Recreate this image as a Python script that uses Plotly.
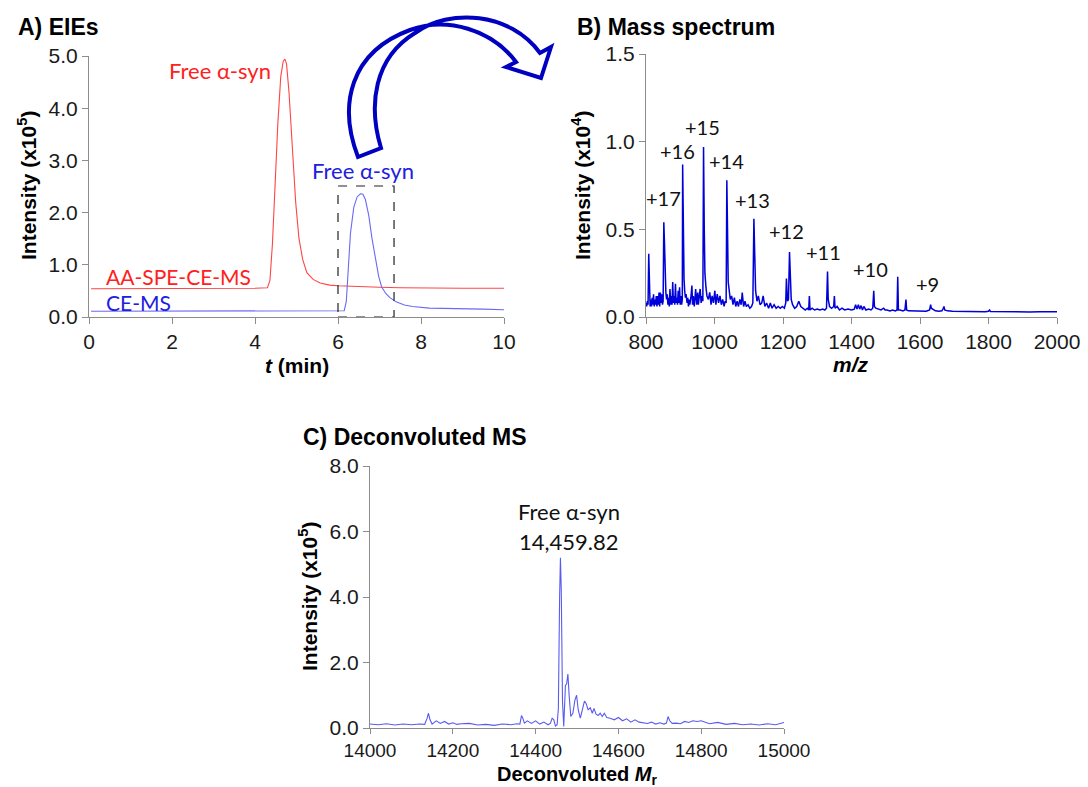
import plotly.graph_objects as go

W, H = 1088, 787

# ---------------- Panel A data (EIEs) ----------------
red_t = [0.05, 1.0, 2.0, 3.0, 4.0, 4.3, 4.36, 4.42, 4.48, 4.55, 4.62, 4.68, 4.72, 4.76, 4.82,
         4.9, 4.98, 5.06, 5.15, 5.25, 5.4, 5.57, 5.8, 6.0, 6.5, 7.0, 7.5, 8.0, 9.0, 10.05]
red_i = [0.54, 0.54, 0.54, 0.545, 0.55, 0.56, 0.7, 1.4, 2.5, 3.7, 4.6, 4.9, 4.94, 4.85, 4.3,
         3.2, 2.2, 1.5, 1.1, 0.85, 0.72, 0.65, 0.61, 0.60, 0.58, 0.57, 0.56, 0.555, 0.55, 0.55]
blue_t = [0.05, 2.0, 4.0, 6.0, 6.15, 6.2, 6.25, 6.3, 6.38, 6.46, 6.54, 6.6, 6.66, 6.74, 6.82,
          6.9, 6.98, 7.05, 7.15, 7.25, 7.4, 7.6, 7.8, 8.2, 8.6, 9.0, 9.5, 10.0]
blue_i = [0.11, 0.11, 0.11, 0.11, 0.12, 0.3, 0.9, 1.6, 2.1, 2.3, 2.36, 2.35, 2.25, 1.95, 1.5,
          1.1, 0.78, 0.58, 0.45, 0.37, 0.29, 0.23, 0.2, 0.17, 0.16, 0.15, 0.15, 0.14]
box_t = [6.0, 7.35]
box_i = [0.0, 2.51]

# ---------------- Panel B data (mass spectrum, x10^4) ----------------
mz = [800, 802, 804, 806, 808, 810, 812, 814, 816, 818,
      820, 822, 824, 826, 828, 830, 832, 834, 836, 838,
      840, 842, 844, 846, 848, 850, 852, 854, 856, 858,
      860, 862, 864, 866, 868, 870, 872, 874, 876, 878,
      880, 882, 884, 886, 888, 890, 892, 894, 896, 898,
      900, 902, 904, 906, 907, 909, 911, 913, 915, 917,
      920, 922, 924, 926, 928, 931, 934, 936, 938, 941,
      945, 948, 951, 953, 955, 958, 961, 963, 966, 968,
      970, 972, 975, 978, 982, 986, 990, 993, 997, 1001,
      1004, 1008, 1012, 1016, 1020, 1024, 1028, 1031, 1034, 1036,
      1038, 1040, 1043, 1046, 1050, 1054, 1058, 1062, 1066, 1070,
      1074, 1078, 1081, 1085, 1089, 1093, 1098, 1103, 1108, 1112,
      1115, 1117, 1120, 1124, 1128, 1133, 1138, 1142, 1147, 1152,
      1158, 1163, 1168, 1174, 1180, 1186, 1192, 1198, 1204, 1208,
      1210, 1213, 1216, 1219, 1221, 1224, 1228, 1234, 1240, 1246,
      1252, 1258, 1265, 1271, 1275, 1277, 1279, 1285, 1292, 1300,
      1308, 1316, 1322, 1327, 1330, 1332, 1336, 1342, 1348, 1350,
      1352, 1358, 1365, 1372, 1380, 1390, 1400, 1408, 1412, 1416,
      1420, 1424, 1428, 1432, 1436, 1442, 1450, 1457, 1462, 1465,
      1467, 1471, 1478, 1486, 1494, 1498, 1504, 1512, 1520, 1528,
      1533, 1535, 1537, 1542, 1550, 1556, 1559, 1561, 1566, 1575,
      1590, 1605, 1618, 1628, 1631, 1633, 1636, 1645, 1655, 1664,
      1668, 1670, 1672, 1680, 1695, 1710, 1730, 1760, 1790, 1800,
      1803, 1806, 1830, 1860, 1890, 1920, 1950, 1980, 2000]
ms_i = [0.08, 0.06, 0.09, 0.07, 0.36, 0.09, 0.06, 0.10, 0.06, 0.11,
        0.07, 0.13, 0.06, 0.10, 0.07, 0.12, 0.06, 0.12, 0.07, 0.14,
        0.06, 0.14, 0.08, 0.13, 0.07, 0.09, 0.54, 0.42, 0.20, 0.14,
        0.10, 0.13, 0.07, 0.11, 0.06, 0.16, 0.07, 0.12, 0.07, 0.20,
        0.08, 0.12, 0.07, 0.19, 0.08, 0.11, 0.07, 0.15, 0.08, 0.17,
        0.07, 0.12, 0.07, 0.10, 0.87, 0.49, 0.22, 0.15, 0.11, 0.13,
        0.08, 0.11, 0.06, 0.10, 0.07, 0.11, 0.18, 0.07, 0.12, 0.06,
        0.16, 0.07, 0.14, 0.07, 0.12, 0.16, 0.08, 0.12, 0.09, 0.97,
        0.52, 0.25, 0.17, 0.12, 0.10, 0.14, 0.07, 0.12, 0.08, 0.15,
        0.07, 0.13, 0.08, 0.12, 0.07, 0.10, 0.06, 0.09, 0.08, 0.78,
        0.50, 0.20, 0.15, 0.10, 0.12, 0.07, 0.11, 0.06, 0.09, 0.06,
        0.10, 0.07, 0.14, 0.06, 0.09, 0.06, 0.07, 0.05, 0.06, 0.08,
        0.56, 0.32, 0.15, 0.09, 0.12, 0.07, 0.08, 0.12, 0.06, 0.08,
        0.05, 0.08, 0.05, 0.07, 0.05, 0.06, 0.05, 0.06, 0.05, 0.08,
        0.22, 0.09, 0.10, 0.37, 0.28, 0.10, 0.07, 0.05, 0.06, 0.09,
        0.06, 0.05, 0.04, 0.05, 0.04, 0.12, 0.04, 0.05, 0.04, 0.045,
        0.04, 0.045, 0.04, 0.05, 0.26, 0.10, 0.06, 0.05, 0.06, 0.12,
        0.05, 0.06, 0.04, 0.05, 0.04, 0.045, 0.04, 0.045, 0.07, 0.045,
        0.07, 0.045, 0.065, 0.04, 0.06, 0.04, 0.045, 0.04, 0.05, 0.15,
        0.06, 0.05, 0.045, 0.04, 0.05, 0.04, 0.04, 0.035, 0.04, 0.035,
        0.04, 0.23, 0.04, 0.04, 0.035, 0.04, 0.10, 0.04, 0.035, 0.035,
        0.033, 0.035, 0.033, 0.04, 0.07, 0.05, 0.045, 0.035, 0.033, 0.035,
        0.05, 0.06, 0.04, 0.035, 0.033, 0.032, 0.031, 0.032, 0.03, 0.033,
        0.04, 0.031, 0.03, 0.031, 0.03, 0.029, 0.03, 0.029, 0.03]
charge_labels = ["+17", "+16", "+15", "+14", "+13", "+12", "+11", "+10", "+9"]
charge_x = [850, 893, 964, 1034, 1110, 1209, 1317, 1454, 1623]
charge_y = [0.68, 0.947, 1.084, 0.889, 0.667, 0.491, 0.371, 0.274, 0.188]

# ---------------- Panel C data (deconvoluted, x10^5) ----------------
mr = [14000, 14020, 14040, 14060, 14080, 14100, 14120, 14132, 14138, 14141,
      14145, 14150, 14160, 14170, 14180, 14190, 14200, 14210, 14220, 14240,
      14260, 14280, 14300, 14320, 14340, 14355, 14362, 14366, 14369, 14373,
      14380, 14390, 14400, 14410, 14420, 14430, 14436, 14440, 14444, 14448,
      14452, 14455, 14458, 14460, 14462, 14465, 14468, 14472, 14475, 14478,
      14481, 14485, 14490, 14495, 14499, 14503, 14508, 14513, 14518, 14522,
      14527, 14532, 14537, 14541, 14546, 14551, 14556, 14561, 14566, 14572,
      14580, 14590, 14600, 14610, 14620, 14630, 14640, 14650, 14660, 14670,
      14680, 14690, 14700, 14710, 14716, 14720, 14724, 14730, 14740, 14750,
      14760, 14770, 14780, 14790, 14800, 14820, 14840, 14860, 14880, 14900,
      14920, 14940, 14960, 14980, 15000]
dec_i = [0.12, 0.10, 0.13, 0.09, 0.12, 0.10, 0.12, 0.11, 0.30, 0.45,
         0.25, 0.12, 0.22, 0.14, 0.20, 0.12, 0.16, 0.11, 0.13, 0.14,
         0.09, 0.11, 0.08, 0.12, 0.10, 0.13, 0.12, 0.38, 0.30, 0.15,
         0.22, 0.14, 0.22, 0.12, 0.18, 0.10, 0.15, 0.30, 0.25, 0.06,
         0.10, 0.6, 4.0, 5.2, 4.2, 0.8, 0.05, 1.3, 1.35, 1.65,
         1.0, 0.35, 0.45, 0.85, 1.0, 0.55, 0.30, 0.55, 0.82, 0.75,
         0.55, 0.62, 0.45, 0.60, 0.42, 0.38, 0.45, 0.35, 0.45, 0.32,
         0.30, 0.25, 0.32, 0.22, 0.28, 0.18, 0.25, 0.18, 0.17, 0.14,
         0.18, 0.12, 0.16, 0.12, 0.15, 0.35, 0.22, 0.14, 0.15, 0.13,
         0.20, 0.17, 0.22, 0.20, 0.22, 0.13, 0.17, 0.11, 0.14, 0.10,
         0.12, 0.09, 0.13, 0.10, 0.17]

# ---------------- Figure ----------------
def px(x):
    return x / W

def py(y):
    return 1 - y / H

fig = go.Figure()
fig.add_trace(go.Scatter(x=red_t, y=red_i, mode="lines", line=dict(color="#FF4545", width=1.1),
                         xaxis="x", yaxis="y", showlegend=False, hoverinfo="skip"))
fig.add_trace(go.Scatter(x=blue_t, y=blue_i, mode="lines", line=dict(color="#6A6AF5", width=1.1),
                         xaxis="x", yaxis="y", showlegend=False, hoverinfo="skip"))
fig.add_trace(go.Scatter(x=mz, y=ms_i, mode="lines", line=dict(color="#0000D8", width=1.5),
                         xaxis="x2", yaxis="y2", showlegend=False, hoverinfo="skip"))
fig.add_trace(go.Scatter(x=mr, y=dec_i, mode="lines", line=dict(color="#5A5AF0", width=1.1),
                         xaxis="x3", yaxis="y3", showlegend=False, hoverinfo="skip"))

TICKFONT = dict(family="Liberation Sans, Arial", size=21, color="#1a1a1a")
AX = dict(showline=True, linecolor="#8c8c8c", linewidth=1, ticks="outside", ticklen=6,
          tickcolor="#8c8c8c", tickwidth=1, showgrid=False, zeroline=False,
          tickfont=TICKFONT, fixedrange=True, automargin=False)

fig.update_layout(
    width=W, height=H, margin=dict(l=0, r=0, t=0, b=0, pad=0, autoexpand=False),
    paper_bgcolor="white", plot_bgcolor="white", showlegend=False,
    xaxis=dict(AX, domain=[px(89), px(504)], range=[0, 10], tickvals=[0, 2, 4, 6, 8, 10],
               anchor="y"),
    yaxis=dict(AX, domain=[py(317), py(56)], range=[0, 5], tickvals=[0, 1, 2, 3, 4, 5],
               tickformat=".1f", anchor="x"),
    xaxis2=dict(AX, domain=[px(646), px(1057)], range=[800, 2000],
                tickvals=[800, 1000, 1200, 1400, 1600, 1800, 2000], anchor="y2"),
    yaxis2=dict(AX, domain=[py(317), py(54)], range=[0, 1.5], tickvals=[0, 0.5, 1.0, 1.5],
                tickformat=".1f", anchor="x2"),
    xaxis3=dict(AX, domain=[px(370), px(784)], range=[14000, 15000],
                tickvals=[14000, 14200, 14400, 14600, 14800, 15000], tickformat="d", anchor="y3",
                tickfont=dict(TICKFONT, size=19), ticklen=5),
    yaxis3=dict(AX, domain=[py(728), py(466)], range=[0, 8], tickvals=[0, 2, 4, 6, 8],
                tickformat=".1f", anchor="x3"),
)

# dashed box around the free alpha-syn peak
fig.add_shape(type="rect", xref="x", yref="y", x0=box_t[0], x1=box_t[1], y0=box_i[0], y1=box_i[1],
              line=dict(color="#222222", width=1.2, dash="dash"))

# curved arrow from panel A to panel B
pts = [(358, 157), (338, 105), (350, 52), (410, 30), (447, 16), (492, 30), (516, 62),
       (506, 67), (541, 78), (551, 47), (540, 53),
       (510, 12), (450, 8), (415, 33), (374, 58), (368, 105), (381, 148)]
P = [f"{px(x):.5f},{py(y):.5f}" for x, y in pts]
path = (f"M {P[0]} C {P[1]} {P[2]} {P[3]} C {P[4]} {P[5]} {P[6]} "
        f"L {P[7]} L {P[8]} L {P[9]} L {P[10]} "
        f"C {P[11]} {P[12]} {P[13]} C {P[14]} {P[15]} {P[16]} Z")
fig.add_shape(type="path", xref="paper", yref="paper", path=path,
              line=dict(color="#0000C0", width=4), fillcolor="rgba(255,255,255,0)")

ANNFONT = "Lato, Open Sans, sans-serif"
TITLEFONT = dict(family="Liberation Sans, Arial", size=23, color="black")
XTFONT = dict(family="Liberation Sans, Arial", size=21, color="black")
YTFONT = dict(family="Liberation Sans, Arial", size=21, color="black")

def pann(text, x, y, xanchor="center", angle=0, font=TITLEFONT):
    fig.add_annotation(text=text, xref="paper", yref="paper", x=px(x), y=py(y),
                       xanchor=xanchor, yanchor="middle", showarrow=False,
                       textangle=angle, font=font)

# panel titles
pann("<b>A) EIEs</b>", 16, 27, xanchor="left")
pann("<b>B) Mass spectrum</b>", 575, 27, xanchor="left")
pann("<b>C) Deconvoluted MS</b>", 301, 437, xanchor="left")

# axis titles
pann("<b>Intensity (x10<sup>5</sup>)</b>", 27, 186, angle=-90, font=YTFONT)
pann("<b>Intensity (x10<sup>4</sup>)</b>", 581, 186, angle=-90, font=YTFONT)
pann("<b>Intensity (x10<sup>5</sup>)</b>", 308, 597, angle=-90, font=YTFONT)
pann("<b><i>t</i> (min)</b>", 297, 365, font=XTFONT)
pann("<b><i>m/z</i></b>", 851, 364, font=XTFONT)
pann("<b>Deconvoluted <i>M</i><sub>r</sub></b>", 577, 775, font=dict(XTFONT, size=20))

# panel A labels
fig.add_annotation(text="Free α-syn", xref="x", yref="y", x=4.43, y=4.72, xanchor="right",
                   showarrow=False, font=dict(family=ANNFONT, size=22, color="#FF2020"))
fig.add_annotation(text="AA-SPE-CE-MS", xref="x", yref="y", x=0.36, y=0.78, xanchor="left",
                   showarrow=False, font=dict(family=ANNFONT, size=21, color="#FF2020"))
fig.add_annotation(text="CE-MS", xref="x", yref="y", x=0.36, y=0.28, xanchor="left",
                   showarrow=False, font=dict(family=ANNFONT, size=21, color="#2020E0"))
fig.add_annotation(text="Free α-syn", xref="x", yref="y", x=7.88, y=2.8, xanchor="right",
                   showarrow=False, font=dict(family=ANNFONT, size=22, color="#2020E0"))

# panel B charge states
for lab, cx, cy in zip(charge_labels, charge_x, charge_y):
    fig.add_annotation(text=lab, xref="x2", yref="y2", x=cx, y=cy, showarrow=False,
                       font=dict(family=ANNFONT, size=20, color="#111111"))

# panel C label
fig.add_annotation(text="Free α-syn", xref="x3", yref="y3", x=14481, y=6.6, showarrow=False,
                   font=dict(family=ANNFONT, size=22, color="#111111"))
fig.add_annotation(text="14,459.82", xref="x3", yref="y3", x=14481, y=5.7, showarrow=False,
                   font=dict(family=ANNFONT, size=22, color="#111111"))

fig.write_html("out.html")
